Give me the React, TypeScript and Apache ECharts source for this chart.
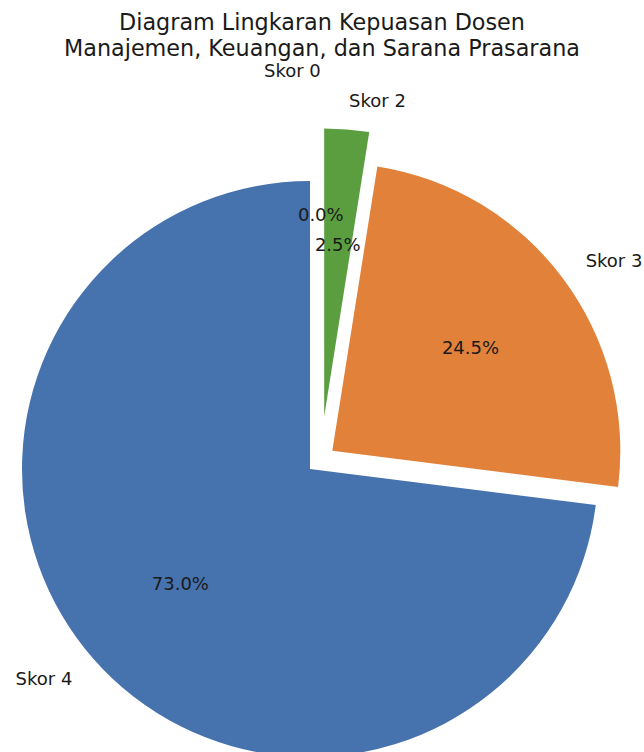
import React, { useEffect, useRef } from "react";
import * as echarts from "echarts";

const categories = ["Skor 0", "Skor 1", "Skor 2", "Skor 3", "Skor 4"];
const values = [0, 0, 2.5, 24.5, 73.0];
const explode = [0.25, 0.25, 0.15, 0.05, 0.05];
const colors = ["#3b75af", "#c44e52", "#5b9e40", "#e1813a", "#4672ae"];
const titleText = "Diagram Lingkaran Kepuasan Dosen\nManajemen, Keuangan, dan Sarana Prasarana";

const CX = 320.8;
const CY = 459.5;
const R = 288;
const START = 90.001;

export default function App() {
  const ref = useRef<HTMLDivElement>(null);
  useEffect(() => {
    if (!ref.current) return;
    const chart = echarts.init(ref.current, null, { renderer: "svg" });
    const total = values.reduce((a, b) => a + b, 0);
    let acc = 0;
    const series: any[] = [];
    values.forEach((v, i) => {
      const midFrac = (acc + v / 2) / total;
      acc += v;
      const ang = ((START - midFrac * 360) * Math.PI) / 180;
      const off = explode[i] * R;
      const cx = CX + off * Math.cos(ang);
      const cy = CY - off * Math.sin(ang);
      const data = categories.map((c, j) => ({
        name: c,
        value: values[j],
        itemStyle: { color: j === i ? colors[j] : "rgba(0,0,0,0)" },
        label: { show: j === i },
      }));
      series.push({
        type: "pie",
        center: [cx, cy],
        radius: [0, R],
        startAngle: START,
        clockwise: true,
        avoidLabelOverlap: false,
        silent: true,
        z: 2,
        data,
        label: {
          position: "outside",
          formatter: "{b}",
          fontSize: 18,
          fontFamily: "DejaVu Sans",
          color: "#1a1a1a",
          distanceToLabelLine: 0,
        },
        labelLine: { show: false, length: 0.1 * R, length2: 0 },
        itemStyle: { borderWidth: 0 },
        emphasis: { disabled: true },
      });
      const data2 = categories.map((c, j) => ({
        name: c,
        value: values[j],
        itemStyle: { color: "rgba(0,0,0,0)" },
        label: { show: j === i },
      }));
      series.push({
        type: "pie",
        center: [cx, cy],
        radius: [0, 1.2 * R - 6],
        startAngle: START,
        clockwise: true,
        avoidLabelOverlap: false,
        silent: true,
        z: 3,
        data: data2,
        label: {
          position: "inside",
          formatter: (p: any) => p.value.toFixed(1) + "%",
          fontSize: 18,
          fontFamily: "DejaVu Sans",
          color: "#1a1a1a",
        },
        labelLine: { show: false },
        itemStyle: { borderWidth: 0 },
        emphasis: { disabled: true },
      });
    });
    chart.setOption({
      animation: false,
      backgroundColor: "#ffffff",
      title: {
        text: titleText,
        left: "center",
        top: 9,
        padding: 0,
        textStyle: {
          fontSize: 22.3,
          lineHeight: 26,
          fontWeight: "normal",
          fontFamily: "DejaVu Sans",
          color: "#1a1a1a",
        },
      },
      series,
    });
    return () => chart.dispose();
  }, []);
  return (
    <div
      ref={ref}
      style={{ position: "fixed", left: 0, top: 0, width: 644, height: 752 }}
    />
  );
}
